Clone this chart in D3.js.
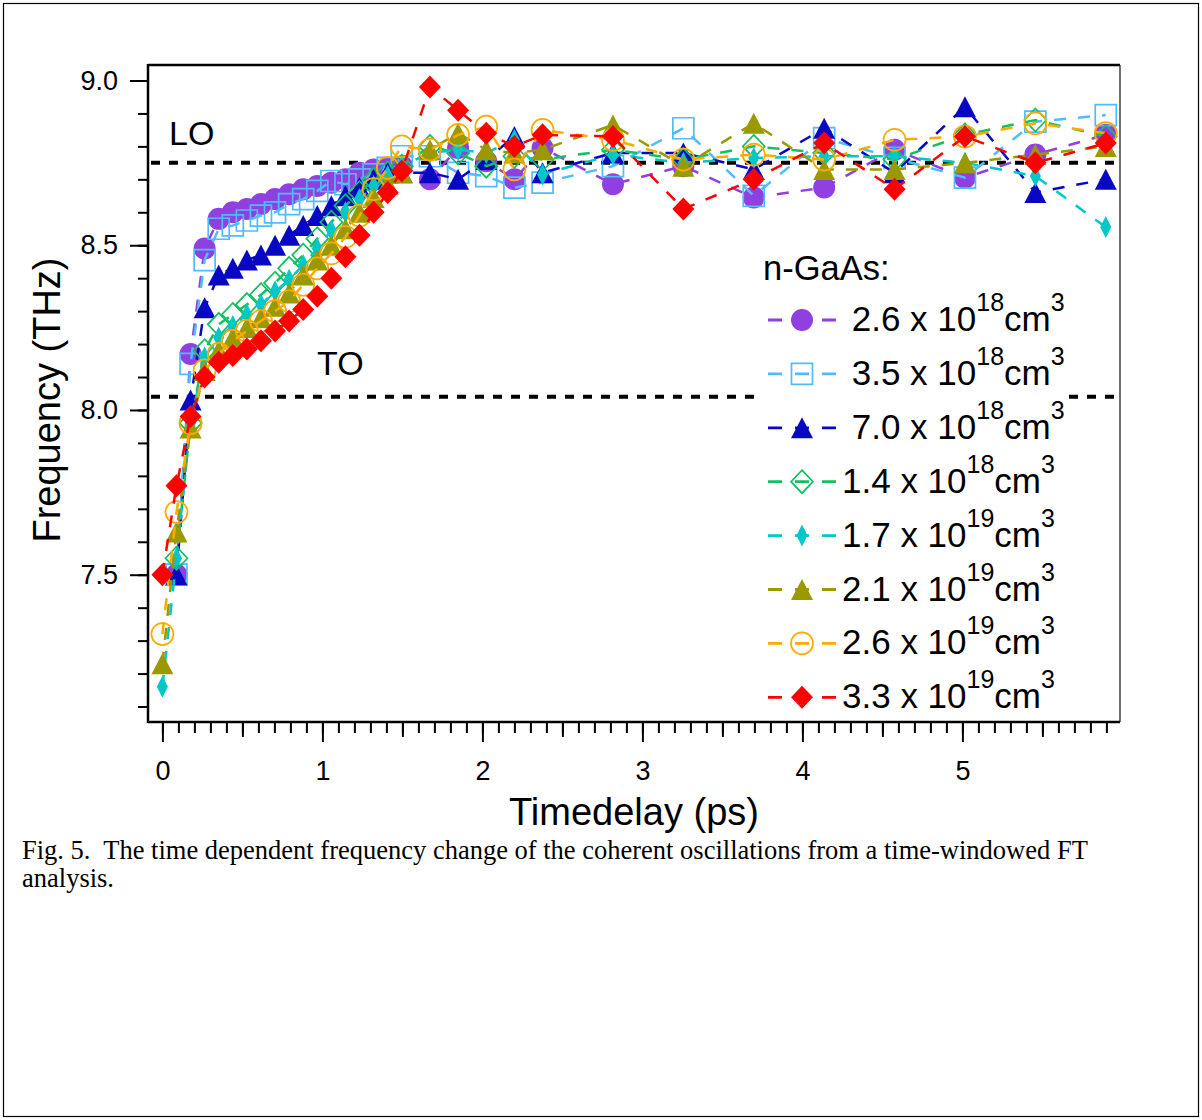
<!DOCTYPE html>
<html>
<head>
<meta charset="utf-8">
<script src="https://cdn.jsdelivr.net/npm/d3@7"></script>
<style>
  html, body { margin: 0; padding: 0; background: #fff; }
  svg { display: block; }
  text { font-family: "Liberation Sans", Arial, Helvetica, sans-serif; fill: #000; }
  .caption { font-family: "Liberation Serif", "Times New Roman", serif; }
</style>
</head>
<body>
<svg id="chart" width="1202" height="1120"></svg>
<script>
// Time delays of the windowed-FT analysis (ps)
const timeDelay = [0, 0.088, 0.176, 0.264, 0.352, 0.44, 0.528, 0.616, 0.704, 0.792,
  0.88, 0.968, 1.056, 1.144, 1.232, 1.32, 1.408, 1.496, 1.672, 1.848,
  2.024, 2.2, 2.376, 2.816, 3.256, 3.696, 4.136, 4.576, 5.016, 5.456, 5.896];

// Frequency (THz) for each doping level; null where no point was taken
const freq26e18 = [null, 7.50, 8.17, 8.49, 8.58, 8.60, 8.61, 8.625, 8.64, 8.655,
  8.67, 8.68, 8.69, 8.70, 8.72, 8.73, 8.735, 8.74, 8.70, 8.795,
  8.755, 8.70, 8.795, 8.685, 8.74, 8.645, 8.675, 8.79, 8.705, 8.775, 8.835];
const freq35e18 = [null, 7.50, 8.14, 8.455, 8.55, 8.56, 8.575, 8.59, 8.60, 8.625,
  8.64, 8.665, 8.695, 8.685, 8.70, 8.715, 8.735, 8.77, 8.77, 8.72,
  8.71, 8.675, 8.69, 8.74, 8.855, 8.65, 8.825, 8.765, 8.705, 8.875, 8.895];
const freq70e18 = [null, 7.50, 8.03, 8.31, 8.41, 8.43, 8.455, 8.47, 8.50, 8.53,
  8.56, 8.59, 8.62, 8.65, 8.675, 8.70, 8.72, 8.72, 8.72, 8.70,
  8.76, 8.83, 8.72, 8.78, 8.78, 8.73, 8.855, 8.72, 8.92, 8.66, 8.70];
const freq14e18 = [null, 7.55, 7.96, 8.18, 8.26, 8.29, 8.32, 8.35, 8.385, 8.43,
  8.47, 8.52, 8.57, 8.62, 8.66, 8.70, 8.72, 8.74, 8.80, 8.78,
  8.74, 8.77, 8.76, 8.79, 8.76, 8.80, 8.78, 8.76, 8.835, 8.88, 8.83];
const freq17e19 = [7.16, 7.55, 7.96, 8.16, 8.22, 8.255, 8.29, 8.32, 8.36, 8.395,
  8.44, 8.49, 8.545, 8.60, 8.64, 8.68, 8.71, 8.74, 8.78, 8.79,
  8.78, 8.82, 8.715, 8.775, 8.75, 8.765, 8.77, 8.77, 8.75, 8.71, 8.555];
const freq21e19 = [7.23, 7.63, 7.945, 8.12, 8.18, 8.22, 8.25, 8.28, 8.315, 8.355,
  8.41, 8.455, 8.50, 8.55, 8.60, 8.645, 8.685, 8.72, 8.79, 8.84,
  8.79, 8.78, 8.79, 8.865, 8.74, 8.87, 8.73, 8.73, 8.75, 8.775, 8.80];
const freq26e19 = [7.32, 7.69, 7.96, 8.12, 8.17, 8.21, 8.24, 8.27, 8.30, 8.33,
  8.38, 8.43, 8.475, 8.525, 8.59, 8.67, 8.735, 8.80, 8.79, 8.835,
  8.86, 8.73, 8.85, 8.82, 8.76, 8.775, 8.76, 8.82, 8.83, 8.87, 8.84];
const freq33e19 = [7.50, 7.77, 7.98, 8.10, 8.145, 8.165, 8.185, 8.21, 8.24, 8.27,
  8.305, 8.345, 8.40, 8.465, 8.53, 8.60, 8.66, 8.725, 8.98, 8.91,
  8.84, 8.80, 8.835, 8.83, 8.61, 8.70, 8.81, 8.67, 8.83, 8.75, 8.81];

// Legend text: carrier density mantissa and power of ten
const densityMantissa = [" 2.6", " 3.5", " 7.0", "1.4", "1.7", "2.1", "2.6", "3.3"];
const densityExponent = ["18", "18", "18", "18", "19", "19", "19", "19"];

// Phonon reference lines (THz)
const phononFreq = [8.75, 8.04];
const phononName = ["LO", "TO"];

// Axis ticks
const xMajorTicks = [0, 1, 2, 3, 4, 5];
const xMidTicks = [0.5, 1.5, 2.5, 3.5, 4.5, 5.5];
const yMajorTicks = [7.5, 8.0, 8.5, 9.0];

const allSeries = [freq26e18, freq35e18, freq70e18, freq14e18, freq17e19, freq21e19, freq26e19, freq33e19];

// Trace styles in drawing order
const traceColor = ["#9040e0", "#4fbcff", "#0808c4", "#12c060", "#00c8c8", "#9a9a00", "#ffaa00", "#ff0000"];
const traceShape = ["circle", "square", "triangle", "diamond", "thinDiamond", "triangle", "circle", "diamond"];
const traceFilled = [true, false, true, false, true, true, false, true];

const svg = d3.select("#chart");
const W = 1202, H = 1120;
const plot = { left: 148, top: 65, right: 1120, bottom: 722 };

const x = d3.scaleLinear().domain([-0.09, 5.985]).range([plot.left, plot.right]);
const y = d3.scaleLinear().domain([7.053, 9.047]).range([plot.bottom, plot.top]);

// page border
svg.append("rect").attr("x", 3.5).attr("y", 3.5).attr("width", W - 7).attr("height", H - 7)
  .attr("fill", "none").attr("stroke", "#000").attr("stroke-width", 1.2);

svg.append("defs").append("clipPath").attr("id", "plotClip")
  .append("rect").attr("x", plot.left).attr("y", plot.top)
  .attr("width", plot.right - plot.left).attr("height", plot.bottom - plot.top);

// marker path generator
function markerPath(shape) {
  switch (shape) {
    case "circle": return "M11,0A11,11 0 1,1 -11,0A11,11 0 1,1 11,0Z";
    case "square": return "M-10.5,-10.5H10.5V10.5H-10.5Z";
    case "triangle": return "M0,-10.5L11,10.5L-11,10.5Z";
    case "diamond": return "M0,-11.5L11,0L0,11.5L-11,0Z";
    case "thinDiamond": return "M0,-11L5.5,0L0,11L-5.5,0Z";
  }
}

// y axis: minor then major ticks
const yMinor = svg.append("g").attr("transform", `translate(${plot.left},0)`)
  .call(d3.axisLeft(y).ticks(20).tickSize(10).tickFormat(""));
const yMajor = svg.append("g").attr("transform", `translate(${plot.left},0)`)
  .call(d3.axisLeft(y).tickValues(yMajorTicks).tickSize(18).tickPadding(12).tickFormat(d3.format(".1f")));

// x axis
const xMinor = svg.append("g").attr("transform", `translate(0,${plot.bottom})`)
  .call(d3.axisBottom(x).ticks(60).tickSize(11).tickFormat(""));
const xMid = svg.append("g").attr("transform", `translate(0,${plot.bottom})`)
  .call(d3.axisBottom(x).tickValues(xMidTicks).tickSize(15).tickFormat(""));
const xMajor = svg.append("g").attr("transform", `translate(0,${plot.bottom})`)
  .call(d3.axisBottom(x).tickValues(xMajorTicks).tickSize(20).tickPadding(19).tickFormat(d3.format("d")));

[yMinor, yMajor, xMinor, xMid, xMajor].forEach(g => {
  g.select(".domain").remove();
  g.selectAll(".tick line").attr("stroke", "#000").attr("stroke-width", 2);
  g.selectAll(".tick text").attr("font-size", 27).attr("font-family", "Liberation Sans, Arial, sans-serif").attr("fill", "#000");
});

// axis titles
svg.append("text").attr("transform", "translate(60,400) rotate(-90)")
  .attr("text-anchor", "middle").attr("font-size", 38).text("Frequency (THz)");
svg.append("text").attr("x", 634).attr("y", 825)
  .attr("text-anchor", "middle").attr("font-size", 38).text("Timedelay (ps)");

// phonon reference lines
const dataLayer = svg.append("g").attr("clip-path", "url(#plotClip)");
phononFreq.forEach(f => {
  dataLayer.append("line").attr("x1", plot.left + 3).attr("x2", plot.right)
    .attr("y1", y(f)).attr("y2", y(f))
    .attr("stroke", "#000").attr("stroke-width", 4).attr("stroke-dasharray", "9,9");
});
svg.append("text").attr("x", 169).attr("y", 145).attr("font-size", 34).text(phononName[0]);
svg.append("text").attr("x", 317).attr("y", 375).attr("font-size", 34).text(phononName[1]);

// traces: dashed line, then markers
const line = d3.line()
  .defined(d => d[1] !== null)
  .x(d => x(d[0])).y(d => y(d[1]));

allSeries.forEach((vals, i) => {
  const pts = timeDelay.map((t, k) => [t, vals[k]]);
  const g = dataLayer.append("g");
  g.append("path").datum(pts).attr("d", line)
    .attr("fill", "none").attr("stroke", traceColor[i])
    .attr("stroke-width", 2.5).attr("stroke-dasharray", "12,12");
  g.selectAll("path.mk").data(pts.filter(d => d[1] !== null)).join("path")
    .attr("class", "mk")
    .attr("transform", d => `translate(${x(d[0])},${y(d[1])})`)
    .attr("d", markerPath(traceShape[i]))
    .attr("fill", traceFilled[i] ? traceColor[i] : "none")
    .attr("stroke", traceColor[i])
    .attr("stroke-width", traceFilled[i] ? 0 : 1.7);
});

// frame
const frame = svg.append("g").attr("stroke", "#000").attr("fill", "none");
frame.append("line").attr("x1", plot.left).attr("x2", plot.right).attr("y1", plot.top).attr("y2", plot.top).attr("stroke-width", 2.5);
frame.append("line").attr("x1", plot.left).attr("x2", plot.left).attr("y1", plot.top - 1).attr("y2", plot.bottom + 1).attr("stroke-width", 2.5);
frame.append("line").attr("x1", plot.left).attr("x2", plot.right).attr("y1", plot.bottom).attr("y2", plot.bottom).attr("stroke-width", 2.5);
frame.append("line").attr("x1", plot.right).attr("x2", plot.right).attr("y1", plot.top).attr("y2", plot.bottom).attr("stroke-width", 1.3).attr("stroke", "#222");

// legend
const legend = svg.append("g");
legend.append("rect").attr("x", 760).attr("y", 248).attr("width", 308).attr("height", 468).attr("fill", "#fff");
legend.append("text").attr("x", 763).attr("y", 280).attr("font-size", 34.5).text("n-GaAs:");
densityMantissa.forEach((m, i) => {
  const cy = 320 + i * 53.9;
  const row = legend.append("g");
  row.append("line").attr("x1", 768).attr("x2", 836).attr("y1", cy).attr("y2", cy)
    .attr("stroke", traceColor[i]).attr("stroke-width", 2.8).attr("stroke-dasharray", "14,13");
  row.append("path").attr("transform", `translate(802,${cy})`)
    .attr("d", markerPath(traceShape[i]))
    .attr("fill", traceFilled[i] ? traceColor[i] : "none")
    .attr("stroke", traceColor[i]).attr("stroke-width", traceFilled[i] ? 0 : 1.7);
  const t = row.append("text").attr("x", 842).attr("y", cy + 11)
    .attr("font-size", 35).style("white-space", "pre");
  t.append("tspan").text(m + " x 10");
  t.append("tspan").attr("font-size", 25).attr("dy", -20).text(densityExponent[i]);
  t.append("tspan").attr("font-size", 35).attr("dy", 20).text("cm");
  t.append("tspan").attr("font-size", 25).attr("dy", -20).text("3");
});

// figure caption
const cap = svg.append("text").attr("class", "caption").attr("font-size", 26.5);
cap.append("tspan").attr("x", 22).attr("y", 859).style("white-space", "pre")
  .text("Fig. 5.  The time dependent frequency change of the coherent oscillations from a time-windowed FT");
cap.append("tspan").attr("x", 22).attr("y", 887).text("analysis.");
</script>
</body>
</html>
